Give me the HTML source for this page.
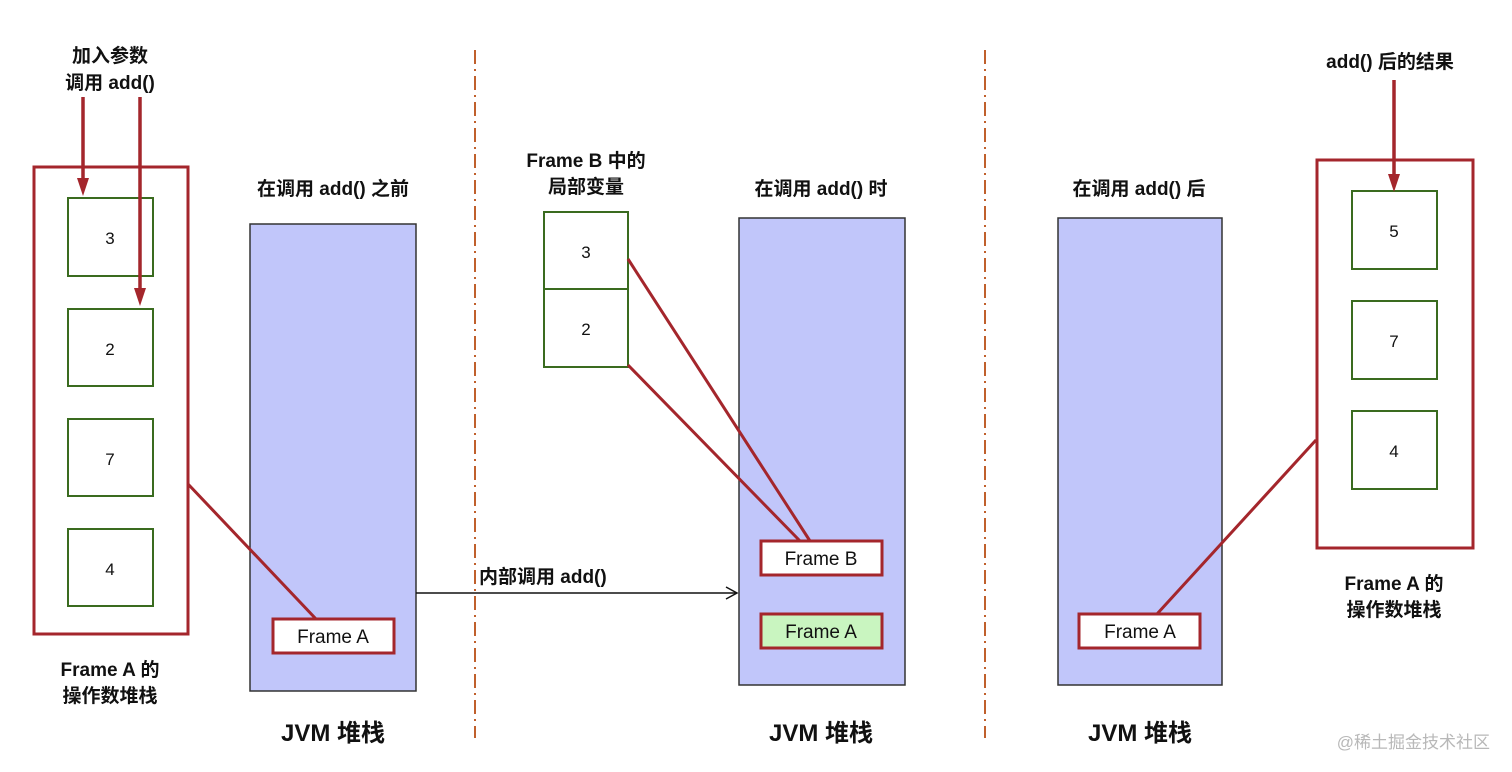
<!DOCTYPE html>
<html><head><meta charset="utf-8"><style>
html,body{margin:0;padding:0;background:#fff;}
svg{display:block;}
text{font-family:"Liberation Sans","Noto Sans CJK SC",sans-serif;fill:#111;}
.b{font-weight:bold;font-size:19px;}
.n{font-size:17px;}
.f{font-size:19px;}
.j{font-weight:bold;font-size:24px;}
</style></head><body>
<svg width="1512" height="772" viewBox="0 0 1512 772" xmlns="http://www.w3.org/2000/svg">
<!-- dividers -->
<line x1="475" y1="50" x2="475" y2="738" stroke="#c0602c" stroke-width="2" stroke-dasharray="14,5,2,5"/>
<line x1="985" y1="50" x2="985" y2="738" stroke="#c0602c" stroke-width="2" stroke-dasharray="14,5,2,5"/>

<!-- LEFT -->
<text class="b" x="110" y="62" text-anchor="middle">加入参数</text>
<text class="b" x="110" y="89" text-anchor="middle">调用 add()</text>
<rect x="34" y="167" width="154" height="467" fill="none" stroke="#a4262c" stroke-width="3"/>
<g fill="#fff" stroke="#3a6b1f" stroke-width="2">
<rect x="68" y="198" width="85" height="78"/>
<rect x="68" y="309" width="85" height="77"/>
<rect x="68" y="419" width="85" height="77"/>
<rect x="68" y="529" width="85" height="77"/>
</g>
<text class="n" x="110" y="244" text-anchor="middle">3</text>
<text class="n" x="110" y="355" text-anchor="middle">2</text>
<text class="n" x="110" y="465" text-anchor="middle">7</text>
<text class="n" x="110" y="575" text-anchor="middle">4</text>
<line x1="83" y1="97" x2="83" y2="180" stroke="#a4262c" stroke-width="3.5"/>
<polygon points="77,178 89,178 83,196" fill="#a4262c"/>
<line x1="140" y1="97" x2="140" y2="290" stroke="#a4262c" stroke-width="3.5"/>
<polygon points="134,288 146,288 140,306" fill="#a4262c"/>
<text class="b" x="110" y="676" text-anchor="middle">Frame A 的</text>
<text class="b" x="110" y="702" text-anchor="middle">操作数堆栈</text>

<text class="b" x="333" y="195" text-anchor="middle">在调用 add() 之前</text>
<rect x="250" y="224" width="166" height="467" fill="#c1c6fa" stroke="#333" stroke-width="1.5"/>
<rect x="273" y="619" width="121" height="34" fill="#fff" stroke="#a4262c" stroke-width="3"/>
<text class="f" x="333" y="643" text-anchor="middle">Frame A</text>
<line x1="188" y1="484" x2="316" y2="619" stroke="#a4262c" stroke-width="3"/>
<text class="j" x="333" y="741" text-anchor="middle">JVM 堆栈</text>

<!-- arrow -->
<line x1="416" y1="593" x2="736" y2="593" stroke="#111" stroke-width="1.5"/>
<polyline points="726,587 737,593 726,599" fill="none" stroke="#111" stroke-width="1.5"/>
<text class="b" x="479" y="583">内部调用 add()</text>

<!-- MIDDLE -->
<text class="b" x="586" y="167" text-anchor="middle">Frame B 中的</text>
<text class="b" x="586" y="193" text-anchor="middle">局部变量</text>
<rect x="544" y="212" width="84" height="77" fill="#fff" stroke="#3a6b1f" stroke-width="2"/>
<rect x="544" y="289" width="84" height="78" fill="#fff" stroke="#3a6b1f" stroke-width="2"/>
<text class="n" x="586" y="258" text-anchor="middle">3</text>
<text class="n" x="586" y="335" text-anchor="middle">2</text>
<text class="b" x="821" y="195" text-anchor="middle">在调用 add() 时</text>
<rect x="739" y="218" width="166" height="467" fill="#c1c6fa" stroke="#333" stroke-width="1.5"/>
<line x1="628" y1="259" x2="810" y2="541" stroke="#a4262c" stroke-width="3"/>
<line x1="628" y1="365" x2="800" y2="541" stroke="#a4262c" stroke-width="3"/>
<rect x="761" y="541" width="121" height="34" fill="#fff" stroke="#a4262c" stroke-width="3"/>
<text class="f" x="821" y="565" text-anchor="middle">Frame B</text>
<rect x="761" y="614" width="121" height="34" fill="#c9f5c0" stroke="#a4262c" stroke-width="3"/>
<text class="f" x="821" y="638" text-anchor="middle">Frame A</text>
<text class="j" x="821" y="741" text-anchor="middle">JVM 堆栈</text>

<!-- RIGHT -->
<text class="b" x="1139" y="195" text-anchor="middle">在调用 add() 后</text>
<rect x="1058" y="218" width="164" height="467" fill="#c1c6fa" stroke="#333" stroke-width="1.5"/>
<rect x="1079" y="614" width="121" height="34" fill="#fff" stroke="#a4262c" stroke-width="3"/>
<text class="f" x="1140" y="638" text-anchor="middle">Frame A</text>
<line x1="1316" y1="440" x2="1157" y2="614" stroke="#a4262c" stroke-width="3"/>
<text class="j" x="1140" y="741" text-anchor="middle">JVM 堆栈</text>

<text class="b" x="1390" y="68" text-anchor="middle">add() 后的结果</text>
<rect x="1317" y="160" width="156" height="388" fill="none" stroke="#a4262c" stroke-width="3"/>
<g fill="#fff" stroke="#3a6b1f" stroke-width="2">
<rect x="1352" y="191" width="85" height="78"/>
<rect x="1352" y="301" width="85" height="78"/>
<rect x="1352" y="411" width="85" height="78"/>
</g>
<line x1="1394" y1="80" x2="1394" y2="176" stroke="#a4262c" stroke-width="3.5"/>
<polygon points="1388,174 1400,174 1394,192" fill="#a4262c"/>
<text class="n" x="1394" y="237" text-anchor="middle">5</text>
<text class="n" x="1394" y="347" text-anchor="middle">7</text>
<text class="n" x="1394" y="457" text-anchor="middle">4</text>
<text class="b" x="1394" y="590" text-anchor="middle">Frame A 的</text>
<text class="b" x="1394" y="616" text-anchor="middle">操作数堆栈</text>

<text x="1490" y="748" text-anchor="end" style="font-size:17px;fill:#b8b8b8;">@稀土掘金技术社区</text>
</svg>
</body></html>
